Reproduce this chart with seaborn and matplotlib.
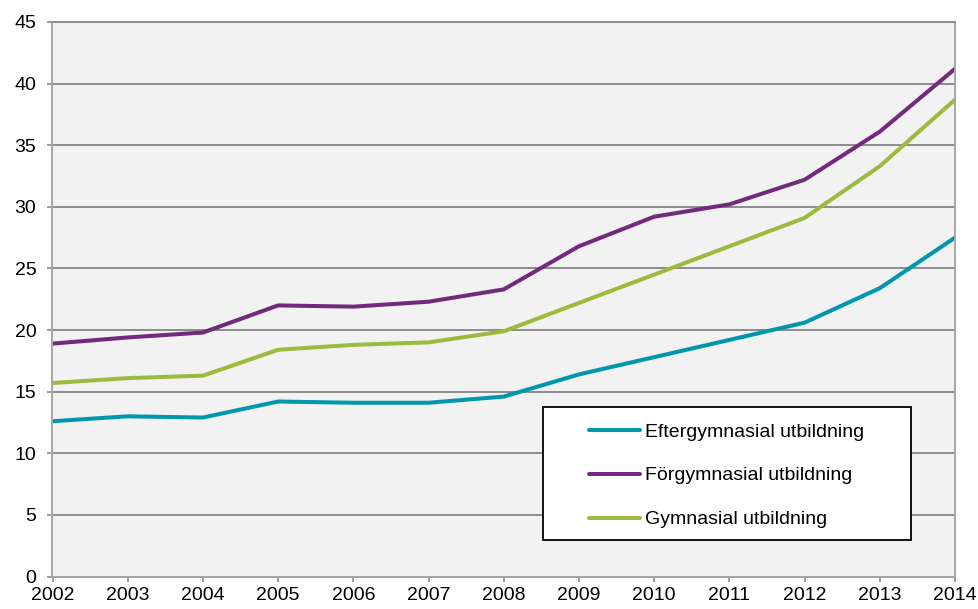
import matplotlib
matplotlib.use("Agg")
import matplotlib.pyplot as plt
from matplotlib.patches import Rectangle
import seaborn as sns
import pandas as pd

# ===============================
# DATA
# ===============================
years = list(range(2002, 2015))
series_names = ["Eftergymnasial utbildning", "Förgymnasial utbildning", "Gymnasial utbildning"]
eftergymnasial = [12.6, 13.0, 12.9, 14.2, 14.1, 14.1, 14.6, 16.4, 17.8, 19.2, 20.6, 23.4, 27.5]
forgymnasial = [18.9, 19.4, 19.8, 22.0, 21.9, 22.3, 23.3, 26.8, 29.2, 30.2, 32.2, 36.1, 41.2]
gymnasial = [15.7, 16.1, 16.3, 18.4, 18.8, 19.0, 19.9, 22.2, 24.5, 26.8, 29.1, 33.3, 38.7]
y_ticks = list(range(0, 50, 5))

colors = ["#0096AE", "#712A7C", "#9BBB3C"]

df = pd.DataFrame({
    "year": years * 3,
    "value": eftergymnasial + forgymnasial + gymnasial,
    "serie": [series_names[0]] * len(years) + [series_names[1]] * len(years) + [series_names[2]] * len(years),
})

# ===============================
# STYLE
# ===============================
sns.set_style("ticks")
plt.rcParams['font.family'] = ['Liberation Sans', 'DejaVu Sans']
plt.rcParams['text.color'] = 'black'

fig, ax = plt.subplots(figsize=(9.79, 6.09), dpi=100)
fig.subplots_adjust(left=52.5 / 979, right=955 / 979, bottom=1 - 576.5 / 609, top=1 - 22 / 609)

ax.set_facecolor("#F2F2F2")

sns.lineplot(data=df, x="year", y="value", hue="serie", palette=colors,
             linewidth=2.9, ax=ax, legend=True)

ax.set_xlim(2002, 2014)
ax.set_ylim(0, 45)
ax.set_xticks(years)
ax.set_yticks(y_ticks)
ax.set_xlabel("")
ax.set_ylabel("")

grid_col = "#8C8C8C"
ax.yaxis.grid(True, color=grid_col, linewidth=1.4)
ax.set_axisbelow(True)
for side in ["left", "bottom", "right", "top"]:
    ax.spines[side].set_color("#A6A6A6")
    ax.spines[side].set_linewidth(1.4)
ax.spines["top"].set_color(grid_col)

ax.tick_params(axis="both", colors="#8C8C8C", length=3.6, width=1.2, labelcolor="black",
               labelsize=14)
ax.tick_params(axis="x", pad=4)
ax.tick_params(axis="y", pad=8)

# ===============================
# LEGEND (boxed, lower right)
# ===============================
handles, labels = ax.get_legend_handles_labels()
ax.get_legend().remove()

box = Rectangle((543 / 979, 1 - 540 / 609), 368 / 979, 133 / 609,
                transform=fig.transFigure, facecolor="white", edgecolor="black",
                linewidth=1.3, zorder=3)
fig.add_artist(box)

leg = fig.legend(handles, labels, loc="upper left", bbox_to_anchor=(589 / 979, 1 - 423 / 609),
                 frameon=False, fontsize=14, handlelength=2.6, handletextpad=0.26,
                 labelspacing=1.35, borderpad=0, borderaxespad=0, labelcolor="black")
leg.set_zorder(5)
for h in leg.get_lines():
    h.set_linewidth(2.9)

fig.savefig("out.png", dpi=100)
plt.close(fig)
